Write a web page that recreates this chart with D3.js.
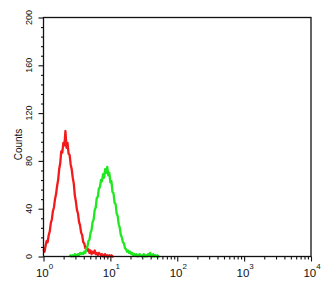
<!DOCTYPE html>
<html><head><meta charset="utf-8">
<script src="https://cdn.jsdelivr.net/npm/d3@7"></script>
<style>html,body{margin:0;padding:0;background:#fff;} svg{display:block}</style>
</head><body>
<svg id="c" width="333" height="287"></svg>
<script>
const decades = [0, 1, 2, 3, 4];
const yTicks = [0, 40, 80, 120, 160, 200];
const yMinorStep = 8;
const yLabel = "Counts";
const channelsPerDecade = 64;
const redStart = 0;
const redCounts = [6,4,9,13,12,18,21,28,31,38,41,48,52,59,64,73,78,88,87,95,93,105,91,95,86,85,77,73,66,61,51,46,39,36,29,26,20,18,12,11,7,8,5,6,3,5,2,4,3,5,2,3,1,3,2,1,2,0,1,2,0,1,0,1,0,1,0,0];
const greenStart = 25;
const greenCounts = [0,1,0,1,0,2,1,1,2,1,3,2,3,2,4,3,7,8,13,14,20,22,29,31,39,41,49,50,57,58,64,63,69,66,73,70,75,68,70,62,63,54,53,45,44,36,34,27,24,18,16,12,11,7,6,4,5,3,4,2,3,1,2,1,2,0,1,2,1,0,1,2,0,1,0,2,1,3,1,0,2,0,1,0,1,0,0];

const svg = d3.select('#c');
const L = 43.5, R = 311, T = 17.5, B = 256.5;
const x = d3.scaleLog().domain([1, 1e4]).range([L, R]);
const y = d3.scaleLinear().domain([0, 200]).range([B, T]);

const toPts = (start, counts) => counts.map((c, i) => [Math.pow(10, (start + i) / channelsPerDecade), c]);
const line = d3.line().x(d => x(d[0])).y(d => y(d[1]));

svg.append('path').datum(toPts(redStart, redCounts)).attr('d', line)
  .attr('fill', 'none').attr('stroke', '#f21a1a').attr('stroke-width', 2.3).attr('stroke-linejoin', 'round');
svg.append('path').datum(toPts(greenStart, greenCounts)).attr('d', line)
  .attr('fill', 'none').attr('stroke', '#1ee81e').attr('stroke-width', 2.3).attr('stroke-linejoin', 'round');

// frame
svg.append('rect').attr('x', L).attr('y', T).attr('width', R - L).attr('height', B - T)
  .attr('fill', 'none').attr('stroke', '#111').attr('stroke-width', 1.3);

// y axis ticks
const yMinor = d3.range(0, 201, yMinorStep).filter(v => !yTicks.includes(v));
const gy = svg.append('g').attr('transform', `translate(${L},0)`);
gy.call(d3.axisLeft(y).tickValues(yTicks).tickSize(5).tickFormat(''));
const gy2 = svg.append('g').attr('transform', `translate(${L},0)`);
gy2.call(d3.axisLeft(y).tickValues(yMinor).tickSize(2.5).tickFormat(''));
gy2.select('.domain').remove();
gy.select('.domain').remove();

svg.append('g').selectAll('text').data(yTicks).join('text')
  .attr('transform', d => `translate(31.8,${y(d)}) rotate(-90)`)
  .attr('text-anchor', 'middle')
  .attr('font-family', 'Liberation Sans, Arial, sans-serif')
  .attr('font-size', 9).attr('fill', '#111').text(d => d);

svg.append('text').attr('transform', `translate(22,144.5) rotate(-90)`)
  .attr('text-anchor', 'middle').attr('font-family', 'Liberation Sans, Arial, sans-serif')
  .attr('font-size', 10).attr('fill', '#111').text(yLabel);

// x axis ticks
const xMajor = decades.map(k => Math.pow(10, k));
const xMinor = [];
decades.slice(0, -1).forEach(k => { for (let m = 2; m <= 9; m++) xMinor.push(m * Math.pow(10, k)); });
const gx = svg.append('g').attr('transform', `translate(0,${B})`);
gx.call(d3.axisBottom(x).tickValues(xMajor).tickSize(5).tickFormat(''));
gx.select('.domain').remove();
const gx2 = svg.append('g').attr('transform', `translate(0,${B})`);
gx2.call(d3.axisBottom(x).tickValues(xMinor).tickSize(3).tickFormat(''));
gx2.select('.domain').remove();
svg.selectAll('.tick line').attr('stroke', '#111').attr('stroke-width', 1.1);

const xl = svg.append('g').selectAll('text').data(decades).join('text')
  .attr('x', d => x(Math.pow(10, d)) + 1).attr('y', 276.5)
  .attr('text-anchor', 'middle')
  .attr('font-family', 'Liberation Sans, Arial, sans-serif').attr('fill', '#111');
xl.append('tspan').attr('font-size', 11.5).text('10');
xl.append('tspan').attr('font-size', 8).attr('dy', -8).text(d => d);
</script>
</body></html>
